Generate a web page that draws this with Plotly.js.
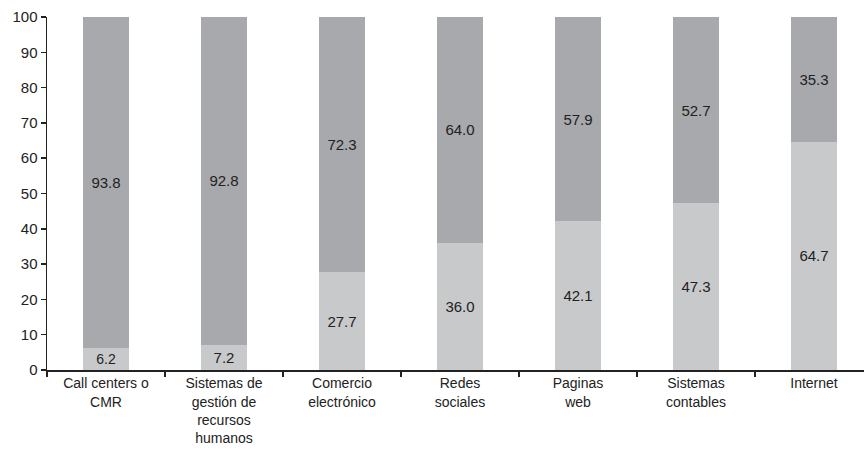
<!DOCTYPE html>
<html>
<head>
<meta charset="utf-8">
<script src="https://cdn.plot.ly/plotly-3.0.1.min.js"></script>
<style>html,body{margin:0;padding:0;background:#fff;}#chart{width:864px;height:449px;}</style>
</head>
<body>
<div id="chart"></div>
<script>
const categories = [
  "Call centers o<br>CMR",
  "Sistemas de<br>gestión de<br>recursos<br>humanos",
  "Comercio<br>electrónico",
  "Redes<br>sociales",
  "Paginas<br>web",
  "Sistemas<br>contables",
  "Internet"
];
const lowerValues = [6.2, 7.2, 27.7, 36.0, 42.1, 47.3, 64.7];
const upperValues = [93.8, 92.8, 72.3, 64.0, 57.9, 52.7, 35.3];
const yTicks = [0, 10, 20, 30, 40, 50, 60, 70, 80, 90, 100];

const textFont = {family: "Liberation Sans, Arial, sans-serif", size: 15, color: "#222"};

const data = [
  {
    type: "bar", x: categories, y: lowerValues,
    marker: {color: "#c8c9cb"},
    texttemplate: "%{y:.1f}", textposition: "inside", insidetextanchor: "middle",
    textfont: textFont, hoverinfo: "skip"
  },
  {
    type: "bar", x: categories, y: upperValues,
    marker: {color: "#a8a9ac"},
    texttemplate: "%{y:.1f}", textposition: "inside", insidetextanchor: "middle",
    textfont: textFont, hoverinfo: "skip"
  }
];

const layout = {
  width: 864, height: 449,
  margin: {l: 47, r: 0, t: 17, b: 79},
  barmode: "stack",
  bargap: 0.61,
  showlegend: false,
  paper_bgcolor: "#fff", plot_bgcolor: "#fff",
  font: {family: "Liberation Sans, Arial, sans-serif", size: 15, color: "#222"},
  xaxis: {
    type: "category",
    range: [-0.5, 6.424],
    showline: true, linecolor: "#222", linewidth: 1.5,
    ticks: "outside", tickson: "boundaries", ticklen: 5, tickcolor: "#222", tickwidth: 1.5,
    showgrid: false, zeroline: false,
    tickfont: {size: 14, color: "#222"},
    tickangle: 0
  },
  yaxis: {
    range: [0, 100],
    tickvals: yTicks,
    showline: true, linecolor: "#222", linewidth: 1.5,
    ticks: "outside", ticklen: 5, tickcolor: "#222", tickwidth: 1.5,
    showgrid: false, zeroline: false,
    tickfont: {size: 15, color: "#222"}
  }
};

Plotly.newPlot("chart", data, layout, {staticPlot: true, displayModeBar: false});
</script>
</body>
</html>
